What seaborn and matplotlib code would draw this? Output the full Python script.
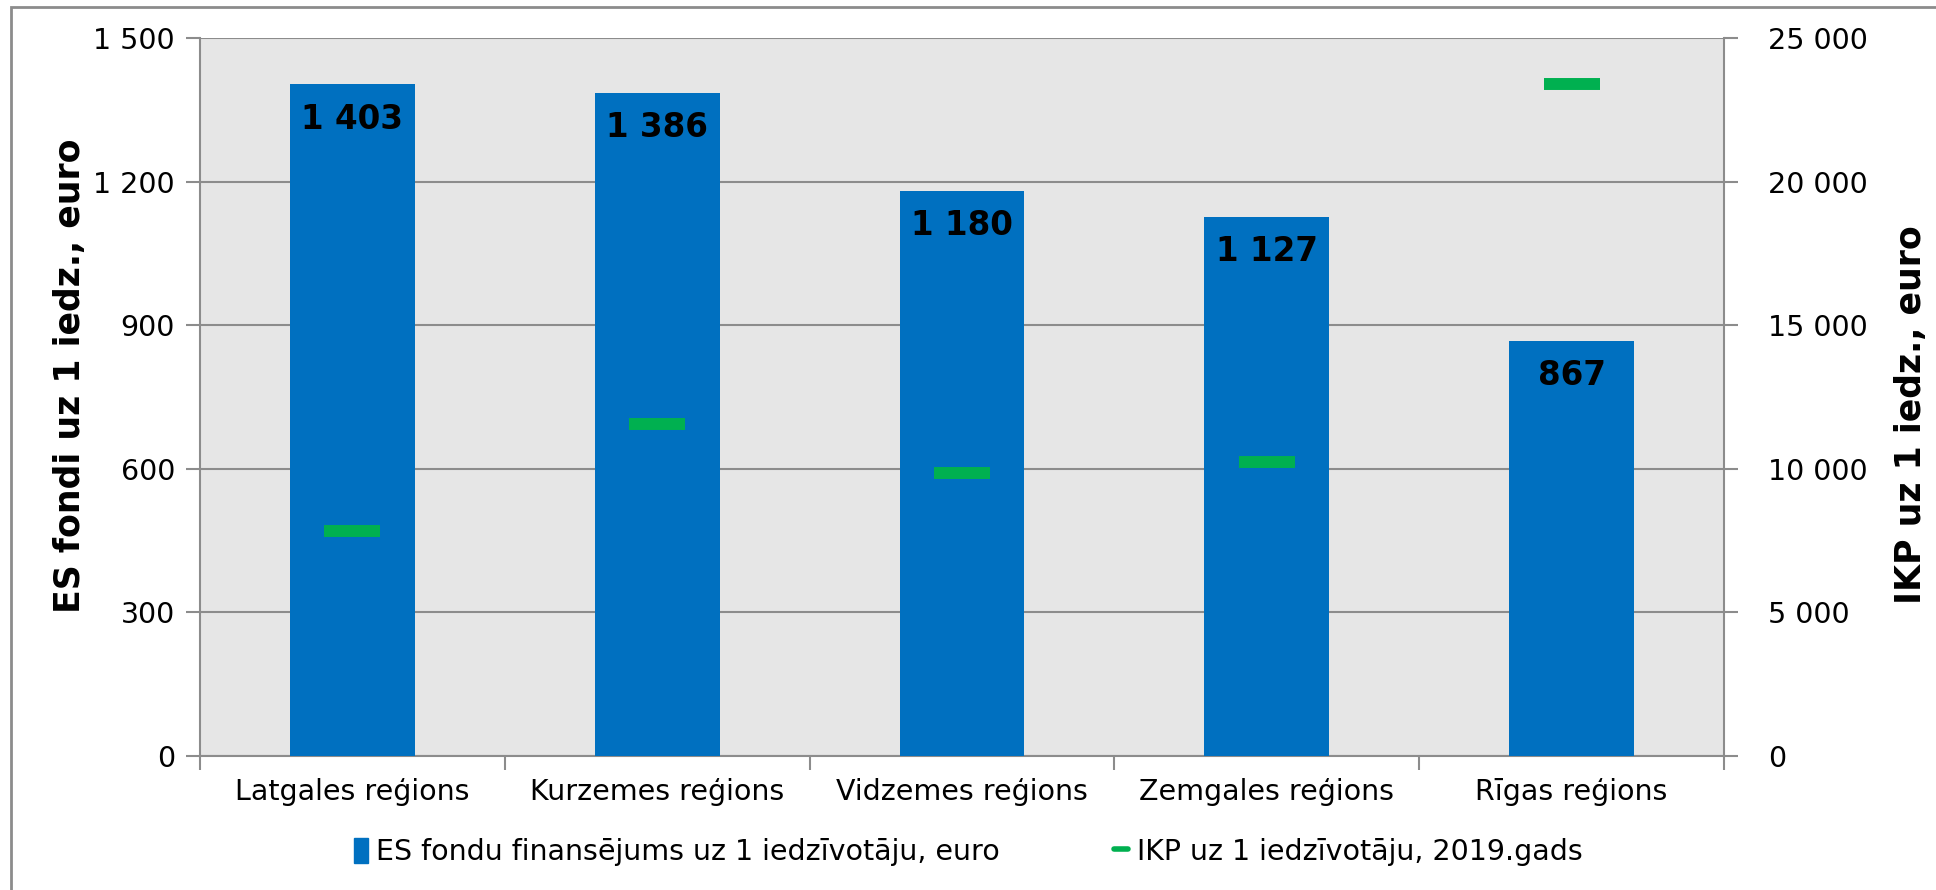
import matplotlib
matplotlib.use("Agg")
import matplotlib.pyplot as plt
from matplotlib.patches import Rectangle
from matplotlib.lines import Line2D
from matplotlib.ticker import FuncFormatter, FixedLocator
import seaborn as sns
import pandas as pd

# data
regions = ["Latgales reģions", "Kurzemes reģions", "Vidzemes reģions",
           "Zemgales reģions", "Rīgas reģions"]
es_funds = [1403, 1386, 1180, 1127, 867]
gdp_2019 = [7850, 11550, 9840, 10250, 23400]

bar_label = "ES fondu finansējums uz 1 iedzīvotāju, euro"
gdp_label = "IKP uz 1 iedzīvotāju, 2019.gads"
left_title = "ES fondi uz 1 iedz., euro"
right_title = "IKP uz 1 iedz., euro"

blue = "#0070c0"
green = "#00b050"
grid_gray = "#8c8c8c"

sns.set_theme(style="white")
plt.rcParams["font.family"] = ["DejaVu Sans"]
plt.rcParams["text.color"] = "black"
plt.rcParams["xtick.color"] = "black"
plt.rcParams["ytick.color"] = "black"
plt.rcParams["axes.labelcolor"] = "black"

df = pd.DataFrame({"region": regions, "funds": es_funds, "gdp": gdp_2019})


def spaced(v, pos=None):
    return f"{int(v):,}".replace(",", " ")


fig = plt.figure(figsize=(19.36, 8.9), dpi=100)
ax = fig.add_axes([200 / 1936, 1 - 756 / 890, 1524 / 1936, 718 / 890])
ax.set_facecolor("#e6e6e6")

sns.barplot(data=df, x="region", y="funds", color=blue, width=0.41,
            saturation=1, linewidth=0, edgecolor="none", ax=ax, zorder=3)
ax.set_xlim(-0.5, len(regions) - 0.5)
ax.set_ylim(0, 1500)
ax.set_yticks(range(0, 1501, 300))
ax.yaxis.set_major_formatter(FuncFormatter(spaced))
ax.grid(axis="y", color=grid_gray, linewidth=1.5, zorder=0)
ax.set_axisbelow(True)

for i, v in enumerate(es_funds):
    ax.text(i, v - 38, spaced(v), ha="center", va="top", fontsize=23.5,
            fontweight="bold", color="black", zorder=5)

ax.set_xlabel("")
ax.set_ylabel(left_title, fontsize=25, fontweight="bold", ha="center",
              va="center")
ax.yaxis.set_label_coords(-0.085, 0.53)
ax.tick_params(axis="x", length=0, labelsize=20.5, pad=16)
ax.tick_params(axis="y", length=10, width=1.5, color=grid_gray, labelsize=20.5,
               labelcolor="black", pad=8, left=True)
ax.xaxis.set_minor_locator(FixedLocator([i + 0.5 for i in range(-1, len(regions))]))
ax.tick_params(axis="x", which="minor", bottom=True, length=10, width=1.5,
               color=grid_gray)
for side in ["left", "right", "bottom"]:
    ax.spines[side].set_visible(True)
    ax.spines[side].set_color(grid_gray)
    ax.spines[side].set_linewidth(1.5)
ax.spines["top"].set_visible(False)

ax2 = ax.twinx()
ax2.plot(range(len(regions)), gdp_2019, ls="none", marker="_", ms=41, mew=8.6,
         color=green, zorder=4)
ax2.set_ylim(0, 25000)
ax2.set_yticks(range(0, 25001, 5000))
ax2.yaxis.set_major_formatter(FuncFormatter(spaced))
ax2.tick_params(axis="y", length=10, width=1.5, color=grid_gray, labelsize=20.5,
                labelcolor="black", pad=22, right=True)
ax2.set_ylabel(right_title, fontsize=25, fontweight="bold", rotation=90,
               ha="center", va="center")
ax2.yaxis.set_label_coords((1911 - 200) / 1524, 0.475)
for side in ["left", "right", "bottom", "top"]:
    ax2.spines[side].set_visible(False)

handles = [Rectangle((0, 0), 1, 1, color=blue),
           Line2D([0], [0], color=green, lw=4)]
fig.legend(handles, [bar_label, gdp_label], loc="center",
           bbox_to_anchor=(0.5, 1 - 852 / 890), ncol=2, frameon=False,
           fontsize=20.5, handlelength=0.5, handleheight=1.0, handletextpad=0.3,
           columnspacing=4)

# outer chart frame
fig.patches.append(Rectangle((11 / 1936, -0.1), 1.2, 1 - 7 / 890 + 0.1,
                             transform=fig.transFigure, fill=False,
                             edgecolor=grid_gray, linewidth=2))

fig.savefig("out.png", dpi=100)
